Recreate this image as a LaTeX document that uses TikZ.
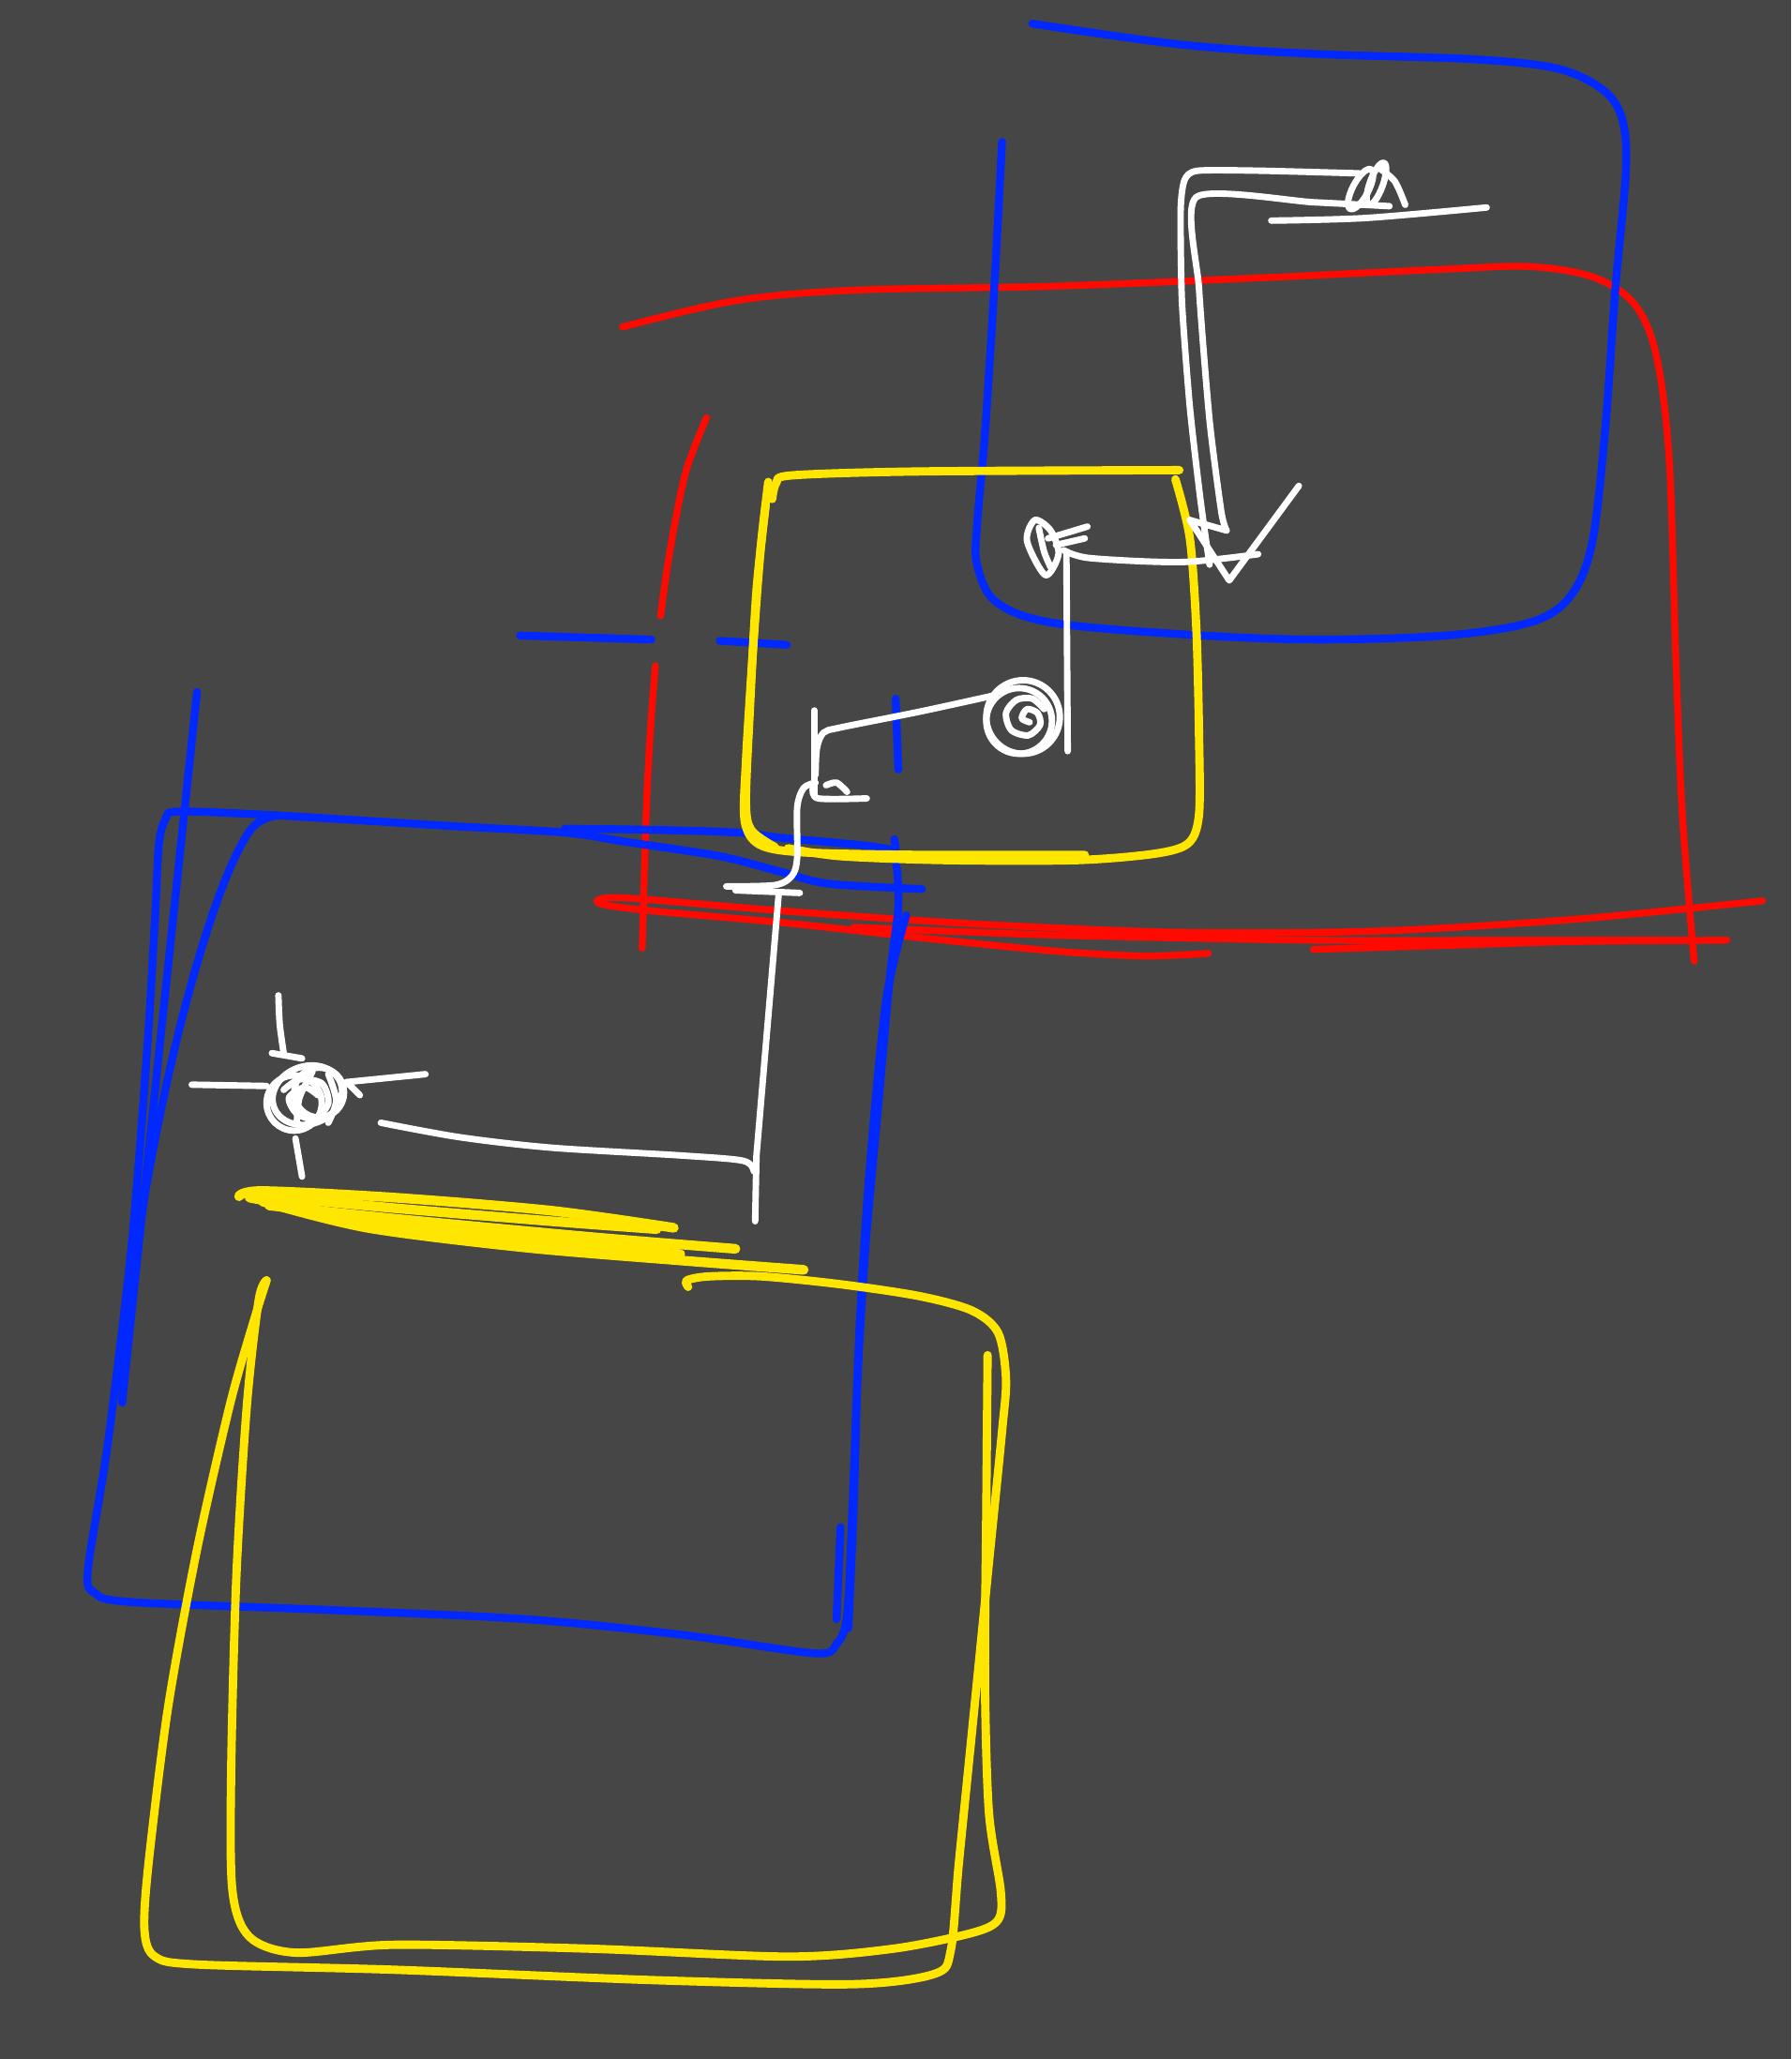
\documentclass[tikz,border=0pt]{standalone}
\definecolor{skbg}{HTML}{464646}
\definecolor{skred}{HTML}{FF0A00}
\definecolor{skblue}{HTML}{0028FF}
\definecolor{skyellow}{HTML}{FFE600}
\tikzset{
  pen/.style={line cap=round, line join=round},
  redline/.style={pen, draw=skred, line width=1.5pt},
  blueline/.style={pen, draw=skblue, line width=1.7pt},
  yelline/.style={pen, draw=skyellow, line width=1.8pt},
  yelthick/.style={pen, draw=skyellow, line width=2.1pt},
  whiteline/.style={pen, draw=white, line width=1.4pt},
}
\begin{document}
\begin{tikzpicture}[x=0.01cm,y=-0.01cm]
\fill[skbg] (0,0) rectangle (1364,1568);
\useasboundingbox (0,0) rectangle (1364,1568);

% ---------------- red frame ----------------
\draw[redline] plot[smooth,tension=0.55] coordinates {(474,249) (560,229) (650,221) (800,218) (950,212) (1100,205) (1165,203) (1213,211) (1244,231) (1261,270) (1271,350) (1276,500) (1281,620) (1290,732)};
\draw[redline] plot[smooth] coordinates {(538,318) (522,360) (510,420) (503,469)};
\draw[redline] plot[smooth] coordinates {(499,507) (495,560) (492,620) (489,722)};
\draw[redline] plot[smooth,tension=0.5] coordinates {(920,726) (870,728) (800,724) (700,714) (600,703) (500,694) (460,689) (456,685) (480,684) (600,694) (750,704) (900,710) (1050,709) (1200,700) (1342,686)};
\draw[redline] plot[smooth] coordinates {(650,706) (800,712) (1000,716) (1150,716) (1290,716)};
\draw[redline] plot[smooth] coordinates {(1000,723) (1100,720) (1200,717) (1315,716)};

% ---------------- blue top-right box ----------------
\draw[blueline] plot[smooth,tension=0.55] coordinates {(763,108) (757,220) (750,330) (744,400) (744,430) (758,458) (800,474) (900,483) (1000,487) (1100,484) (1165,474) (1195,455) (1212,415) (1222,330) (1230,220) (1238,130) (1235,90) (1220,68) (1185,52) (1120,45) (1000,41) (900,34) (786,18)};

% blue dashes
\draw[blueline] (396,484) -- (496,487);
\draw[blueline] (548,488) -- (599,491);
\draw[blueline] (682,532) -- (684,586);
\draw[blueline] (681,639) -- (682,646);

% ---------------- blue left box ----------------
\draw[blueline] (150,527) -- (93,1068);
\draw[blueline] plot[smooth,tension=0.5] coordinates {(702,677) (631,673) (595,664) (548,652) (476,641) (430,634) (343,629) (212,621) (136,618) (126,624) (121,643) (118,700) (112,800) (100,950) (82,1100) (67,1195) (72,1213) (100,1220) (250,1226) (400,1233) (520,1245) (620,1259) (637,1252) (645,1230) (649,1150) (655,1000) (663,880) (675,760) (690,697)};
\draw[blueline] plot[smooth,tension=0.5] coordinates {(430,631) (500,632) (562,634) (595,638) (667,645) (681,652) (684,690) (678,740) (668,850) (659,950) (653,1050) (650,1150) (646,1240)};
\draw[blueline] plot[smooth,tension=0.6] coordinates {(212,621) (190,633) (164,690) (136,786) (112,900) (98,1000) (93,1068)};
\draw[blueline] (640,1163) -- (637,1233);

% ---------------- yellow middle box ----------------
\draw[yelline] plot[smooth] coordinates {(588,380) (591,368) (603,362) (700,359) (898,358)};
\draw[yelline] plot[smooth,tension=0.5] coordinates {(585,367) (579,420) (573,500) (568,580) (567,625) (578,643) (610,649) (700,651) (826,651)};
\draw[yelline] plot[smooth,tension=0.5] coordinates {(583,385) (576,450) (571,540) (568,610) (572,632) (590,645)};
\draw[yelline] plot[smooth,tension=0.5] coordinates {(895,365) (906,410) (911,480) (913,560) (913,620) (905,642) (880,650) (820,655) (720,655) (640,652) (600,646)};

% ---------------- yellow bottom box ----------------
\draw[yelline] plot[smooth,tension=0.5] coordinates {(752,1032) (751,1150) (750,1280) (753,1380) (762,1440) (760,1462) (740,1472) (680,1484) (600,1490) (450,1484) (300,1481) (225,1487) (190,1475) (177,1440) (176,1350) (180,1200) (188,1070) (197,990) (203,975)};
\draw[yelline] plot[smooth,tension=0.5] coordinates {(203,975) (192,1010) (175,1070) (150,1180) (128,1300) (113,1420) (110,1470) (118,1490) (150,1496) (300,1500) (500,1508) (650,1511) (712,1503) (724,1485) (730,1420) (740,1320) (752,1200) (763,1090) (766,1050) (760,1015) (740,998) (700,987) (640,978) (580,972) (540,972) (523,975) (524,980)};

% yellow scribble
\draw[yelthick] plot[smooth] coordinates {(182,911) (200,907) (300,912) (420,922) (513,935)};
\draw[yelthick] plot[smooth] coordinates {(205,918) (300,928) (450,942) (560,951)};
\draw[yelthick] plot[smooth] coordinates {(190,912) (260,925) (350,938) (450,948) (518,955)};
\draw[yelthick] plot[smooth] coordinates {(200,915) (280,935) (400,950) (520,960) (612,967)};
\draw[yelthick] plot[smooth] coordinates {(195,910) (300,920) (420,930) (500,936)};

% ---------------- white top-right arrow ----------------
\draw[whiteline] plot[smooth,tension=0.4] coordinates {(1035,132) (960,130) (912,130) (902,137) (899,160) (900,230) (906,310) (914,380) (921,430)};
\draw[whiteline] plot[smooth,tension=0.4] coordinates {(1058,157) (1000,154) (911,150) (913,220) (921,320) (930,390) (934,404)} -- (906,396);
\draw[whiteline] (906,396) -- (936,442) -- (989,370);
\draw[whiteline] plot[smooth] coordinates {(968,168) (1040,166) (1132,158)};
\draw[whiteline, rotate around={62:(1036,144)}] (1036,144) ellipse (17 and 6);
\draw[whiteline, rotate around={70:(1048,140)}] (1048,140) ellipse (17 and 5);
\draw[whiteline] plot[smooth] coordinates {(1050,128) (1062,138) (1070,156)};

% arrow-like scribble and its lines
\draw[whiteline] plot[smooth cycle] coordinates {(788,396) (782,412) (796,438) (806,422) (800,404)};
\draw[whiteline] plot[smooth] coordinates {(791,402) (795,420) (800,432)};
\draw[whiteline] (798,410) -- (828,401);
\draw[whiteline] (804,415) -- (826,410);
\draw[whiteline] plot[smooth] coordinates {(810,419) (830,425) (900,428) (958,422)};
\draw[whiteline] (812,420) -- (813,572);

% ---------------- white spiral and connector ----------------
\draw[whiteline] (779,546) circle (28);
\draw[whiteline] (776,549) circle (25);
\draw[whiteline] plot[smooth] coordinates {(795,540) (786,532) (774,533) (766,543) (770,556) (783,560) (792,552) (790,543) (782,540) (778,547) (784,550)};
\draw[whiteline] plot[smooth,tension=0.5] coordinates {(755,530) (700,542) (640,554) (627,558) (622,570) (621,590)};
\draw[whiteline] (620,541) -- (620,605);
\draw[whiteline] plot[smooth] coordinates {(619,600) (623,608) (660,608)};
\draw[whiteline] plot[smooth] coordinates {(629,598) (637,596) (645,603)};
\draw[whiteline] plot[smooth,tension=0.5] coordinates {(621,596) (612,600) (607,615) (607,653) (603,667) (590,674) (553,675)};
\draw[whiteline] (560,678) -- (609,680);

% long connector to crosshair
\draw[whiteline] (593,680) -- (576,880) -- (575,930);
\draw[whiteline] plot[smooth,tension=0.5] coordinates {(290,855) (350,866) (420,874) (520,880) (566,884) (574,892)};

% ---------------- crosshair ----------------
\draw[whiteline] (146,826) -- (203,827);
\draw[whiteline] (264,824) -- (324,818);
\draw[whiteline] plot[smooth] coordinates {(212,758) (213,780) (216,802)};
\draw[whiteline] (225,867) -- (230,896);
\draw[whiteline] (207,802) -- (230,806);
\draw[whiteline] (224,840) circle (21);
\draw[whiteline] (243,832) circle (19);
\draw[whiteline, rotate around={20:(234,834)}] (234,834) ellipse (27 and 22);
\draw[whiteline] plot[smooth] coordinates {(216,830) (228,822) (245,825) (250,840) (240,852) (226,848) (220,836) (232,828) (242,834)};
\draw[whiteline] plot[smooth] coordinates {(238,816) (228,836) (226,856)};
\draw[whiteline] plot[smooth] coordinates {(250,818) (256,838) (250,855)};
\draw[whiteline] (264,824) -- (274,834);
\end{tikzpicture}
\end{document}
